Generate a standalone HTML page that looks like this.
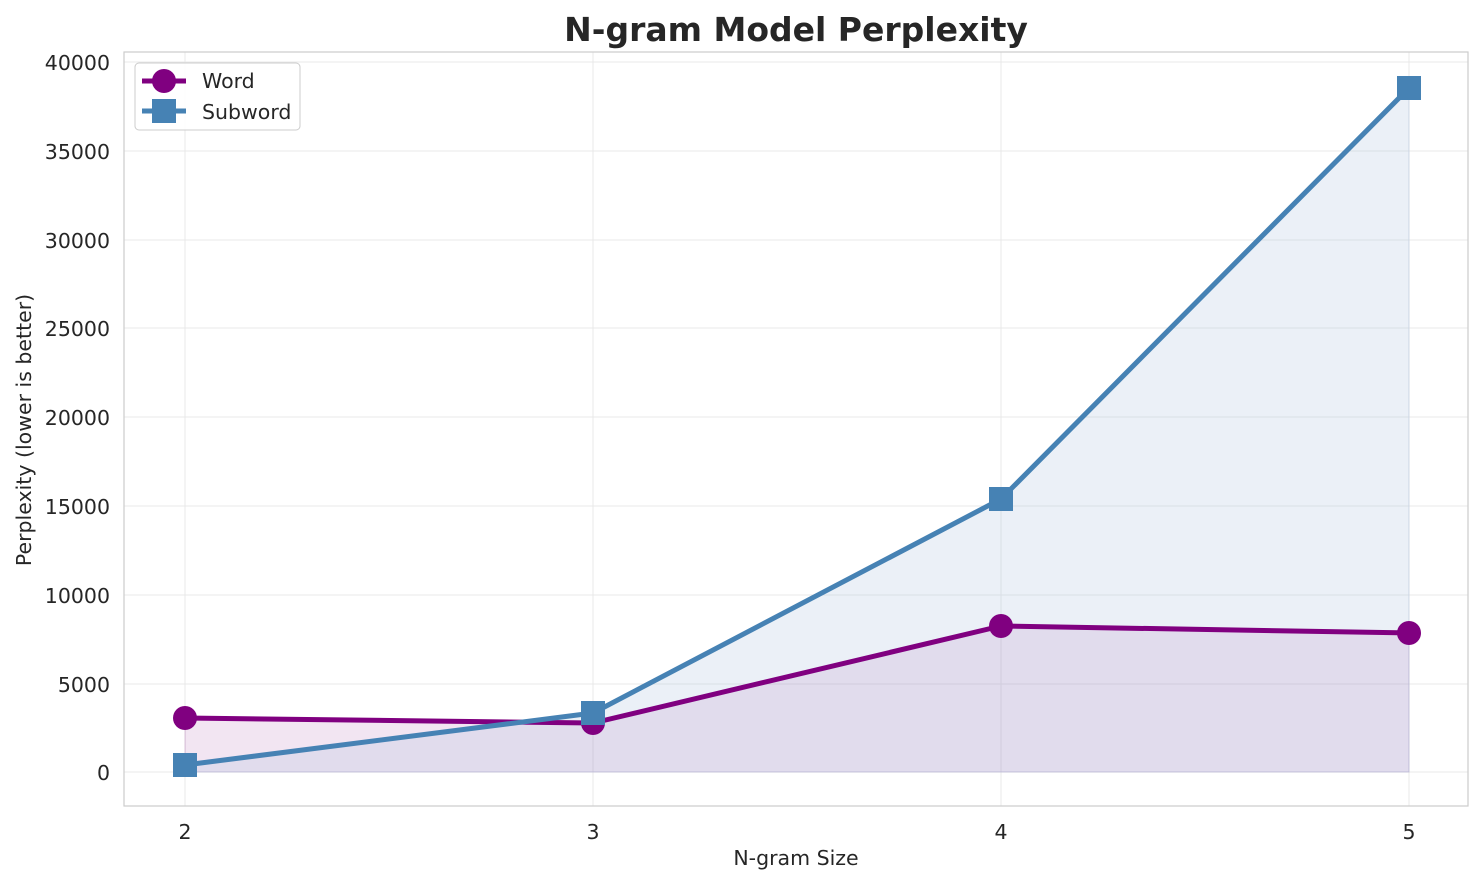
<!DOCTYPE html>
<html><head><meta charset="utf-8"><style>
body{margin:0;background:#fff;}
svg{display:block;font-family:"DejaVu Sans","Liberation Sans",sans-serif;}
</style></head><body>
<svg width="1484" height="885" viewBox="0 0 1484 885" xmlns="http://www.w3.org/2000/svg">
<rect x="0" y="0" width="1484" height="885" fill="#fff"/>
<g stroke="#e8e8e8" stroke-width="1">
<line x1="185" y1="52" x2="185" y2="806"/><line x1="593" y1="52" x2="593" y2="806"/>
<line x1="1001" y1="52" x2="1001" y2="806"/><line x1="1409" y1="52" x2="1409" y2="806"/>
<line x1="124" y1="772" x2="1468" y2="772"/><line x1="124" y1="684" x2="1468" y2="684"/>
<line x1="124" y1="595" x2="1468" y2="595"/><line x1="124" y1="506" x2="1468" y2="506"/>
<line x1="124" y1="417" x2="1468" y2="417"/><line x1="124" y1="328" x2="1468" y2="328"/>
<line x1="124" y1="240" x2="1468" y2="240"/><line x1="124" y1="151" x2="1468" y2="151"/>
<line x1="124" y1="62" x2="1468" y2="62"/>
</g>
<polygon points="185,718 593,723 1001,626 1409,633 1409,772 185,772" fill="#800080" fill-opacity="0.1" stroke="#800080" stroke-opacity="0.15"/>
<polygon points="185,765 593,713 1001,499 1409,88 1409,772 185,772" fill="#b0c4de" fill-opacity="0.25" stroke="#b0c4de" stroke-opacity="0.4"/>
<polyline points="185,718 593,723 1001,626 1409,633" fill="none" stroke="#800080" stroke-width="5" stroke-linejoin="round"/>
<g fill="#800080"><circle cx="185" cy="718" r="12"/><circle cx="593" cy="723" r="12"/><circle cx="1001" cy="626" r="12"/><circle cx="1409" cy="633" r="12"/></g>
<polyline points="185,765 593,713 1001,499 1409,88" fill="none" stroke="#4682b4" stroke-width="5" stroke-linejoin="round"/>
<g fill="#4682b4"><rect x="173" y="753" width="24" height="24"/><rect x="581" y="701" width="24" height="24"/><rect x="989" y="487" width="24" height="24"/><rect x="1397" y="76" width="24" height="24"/></g>
<rect x="124" y="52" width="1344" height="754" fill="none" stroke="#cccccc" stroke-width="1.2"/>
<g font-size="20.5" fill="#262626" text-anchor="middle">
<text x="185" y="839">2</text><text x="593" y="839">3</text><text x="1001" y="839">4</text><text x="1409" y="839">5</text>
<text x="796" y="865">N-gram Size</text>
</g>
<g font-size="20.5" fill="#262626" text-anchor="end">
<text x="110" y="780">0</text><text x="110" y="692">5000</text><text x="110" y="603">10000</text>
<text x="110" y="514">15000</text><text x="110" y="425">20000</text><text x="110" y="336">25000</text>
<text x="110" y="248">30000</text><text x="110" y="159">35000</text><text x="110" y="70">40000</text>
</g>
<text transform="translate(31,430) rotate(-90)" font-size="20.5" fill="#262626" text-anchor="middle">Perplexity (lower is better)</text>
<text x="796" y="41" font-size="33" font-weight="bold" fill="#262626" text-anchor="middle">N-gram Model Perplexity</text>
<rect x="135" y="63" width="165" height="67" rx="4" fill="#fff" fill-opacity="0.85" stroke="#cccccc"/>
<line x1="142" y1="81" x2="186" y2="81" stroke="#800080" stroke-width="5"/><circle cx="164" cy="81" r="12" fill="#800080"/>
<line x1="142" y1="111" x2="186" y2="111" stroke="#4682b4" stroke-width="5"/><rect x="152" y="99" width="24" height="24" fill="#4682b4"/>
<g font-size="20.5" fill="#262626"><text x="202" y="88">Word</text><text x="202" y="119">Subword</text></g>
</svg>
</body></html>
